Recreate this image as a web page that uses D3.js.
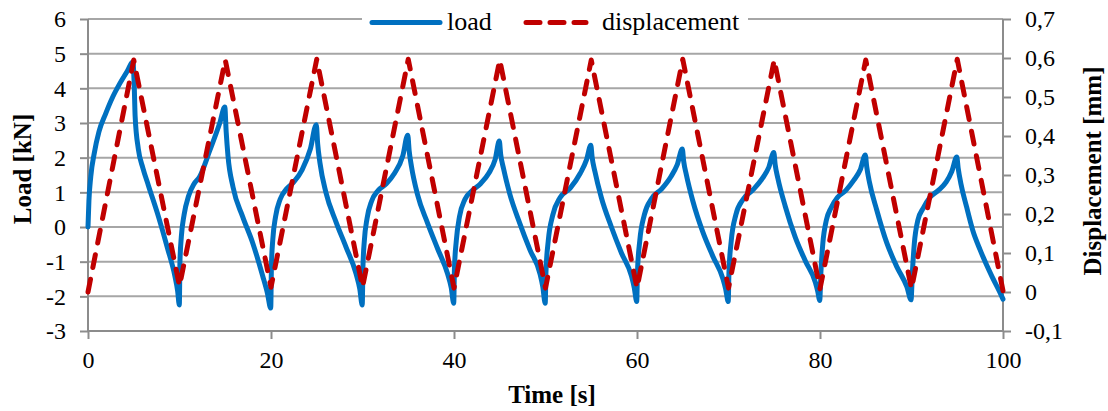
<!DOCTYPE html>
<html><head><meta charset="utf-8">
<script src="https://cdn.jsdelivr.net/npm/d3@7"></script>
<style>
body{margin:0;background:#fff}
svg{display:block}
text{font-family:"Liberation Serif","Times New Roman",serif;fill:#000}
</style>
</head><body>
<svg id="c" width="1108" height="411"></svg>
<script>
const timeTicks = [0, 20, 40, 60, 80, 100];
const loadTicks = [-3, -2, -1, 0, 1, 2, 3, 4, 5, 6];
const dispTicks = [-0.1, 0, 0.1, 0.2, 0.3, 0.4, 0.5, 0.6, 0.7];
const seriesNames = ["load", "displacement"];

// [time s, load kN]
const loadSeries = [
 [0,0],[0.1,0.75],[0.3,1.45],[0.7,2.15],[1.2,2.75],[1.9,3.25],[2.7,3.75],[3.5,4.15],[4.3,4.5],[4.9,4.77],[5.05,4.1],[5.15,3.2],[5.5,2.25],[6.0,1.7],[6.6,1.2],[7.7,0.3],[8.7,-0.62],[9.5,-1.42],[9.8,-1.85],[9.98,-2.25],
 [10.05,-1.0],[10.2,-0.28],[10.5,0.35],[11.0,0.9],[11.6,1.25],[12.2,1.45],[13.3,2.2],[14.4,3.0],[14.95,3.46],[15.1,2.75],[15.3,2.05],[15.85,1.15],[16.9,0.3],[18.0,-0.46],[19.1,-1.42],[19.6,-1.9],[19.97,-2.34],
 [20.05,-1.1],[20.2,-0.35],[20.5,0.3],[21.0,0.8],[21.7,1.1],[22.5,1.3],[23.4,1.65],[24.3,2.25],[24.95,2.95],[25.1,2.4],[25.35,1.85],[26.0,1.0],[27.1,0.15],[28.2,-0.58],[29.3,-1.35],[29.7,-1.78],[29.97,-2.25],
 [30.05,-1.15],[30.2,-0.4],[30.5,0.25],[31.0,0.75],[31.7,1.05],[32.6,1.25],[33.5,1.55],[34.4,2.05],[34.95,2.65],[35.1,2.2],[35.35,1.75],[36.0,0.95],[37.1,0.12],[38.2,-0.62],[39.3,-1.35],[39.7,-1.75],[39.97,-2.2],
 [40.05,-1.2],[40.25,-0.4],[40.6,0.3],[41.2,0.8],[42.0,1.05],[42.9,1.25],[43.8,1.55],[44.5,1.95],[44.95,2.48],[45.1,2.1],[45.4,1.7],[46.1,0.95],[47.2,0.1],[48.3,-0.66],[49.4,-1.35],[49.7,-1.72],[49.97,-2.2],
 [50.05,-1.3],[50.3,-0.4],[50.8,0.35],[51.6,0.85],[52.7,1.12],[53.8,1.55],[54.5,1.95],[54.95,2.36],[55.1,2.0],[55.4,1.6],[56.1,0.85],[57.2,0.0],[58.3,-0.75],[59.4,-1.42],[59.7,-1.75],[59.97,-2.15],
 [60.05,-1.3],[60.3,-0.4],[60.8,0.35],[61.6,0.82],[62.7,1.1],[63.7,1.45],[64.4,1.8],[64.95,2.25],[65.1,1.9],[65.4,1.5],[66.1,0.75],[67.2,-0.15],[68.3,-0.85],[69.4,-1.5],[69.7,-1.8],[69.97,-2.15],
 [70.05,-1.3],[70.3,-0.4],[70.8,0.35],[71.6,0.8],[72.7,1.08],[73.7,1.4],[74.4,1.72],[74.95,2.15],[75.1,1.8],[75.4,1.4],[76.2,0.6],[77.3,-0.3],[78.4,-0.98],[79.5,-1.6],[79.75,-1.85],[79.97,-2.12],
 [80.1,-1.3],[80.3,-0.5],[80.7,0.2],[81.2,0.55],[81.9,0.85],[82.8,1.05],[83.7,1.35],[84.4,1.65],[84.95,2.08],[85.1,1.75],[85.4,1.3],[86.2,0.49],[87.3,-0.46],[88.4,-1.15],[89.5,-1.73],[89.95,-2.1],
 [90.1,-1.3],[90.3,-0.5],[90.7,0.2],[91.3,0.55],[92.0,0.85],[92.9,1.05],[93.8,1.3],[94.4,1.6],[94.95,2.02],[95.1,1.7],[95.4,1.25],[96.0,0.6],[96.7,-0.1],[97.5,-0.66],[98.8,-1.43],[99.6,-1.85],[100,-2.08]
];

// [time s, displacement mm]
const dispSeries = [
 [0,0],[5,0.595],[10,0.015],[15,0.595],[20,0.012],[25,0.597],[30,0.012],[35,0.597],[40,0.01],[45,0.595],
 [50,0.01],[55,0.595],[60,0.01],[65,0.597],[70,0.01],[75,0.595],[80,0.008],[85,0.595],[90,0.008],[95,0.597],[100,0.003]
];

const colors = {load: "#0070C0", displacement: "#C00000"};
const svg = d3.select("#c");
const W = 1108, H = 411;
const m = {left: 88, right: 1003, top: 19, bottom: 331};

const x = d3.scaleLinear().domain([0, 100]).range([m.left, m.right]);
const yL = d3.scaleLinear().domain([-3, 6]).range([m.bottom, m.top]);
const yR = d3.scaleLinear().domain([-0.1, 0.7]).range([m.bottom, m.top]);

const gridColor = "#a6a6a6", axisColor = "#8c8c8c";

// gridlines
svg.append("g").selectAll("line").data(loadTicks.filter(d => d > -3)).join("line")
  .attr("x1", m.left).attr("x2", m.right)
  .attr("y1", d => yL(d)).attr("y2", d => yL(d))
  .attr("stroke", gridColor).attr("stroke-width", 2);

// left axis
const gL = svg.append("g").attr("transform", `translate(${m.left},0)`)
  .call(d3.axisLeft(yL).tickValues(loadTicks).tickSize(8).tickPadding(14).tickFormat(d => String(d)));
// right axis
const gR = svg.append("g").attr("transform", `translate(${m.right},0)`)
  .call(d3.axisRight(yR).tickValues(dispTicks).tickSize(8).tickPadding(14)
    .tickFormat(d => Math.abs(d) < 1e-9 ? "0" : d.toFixed(1).replace(".", ",")));
// bottom axis
const gB = svg.append("g").attr("transform", `translate(0,${m.bottom})`)
  .call(d3.axisBottom(x).tickValues(timeTicks).tickSize(8).tickPadding(12).tickFormat(d => String(d)));

[gL, gR, gB].forEach(g => {
  g.selectAll("path.domain").attr("stroke", axisColor).attr("stroke-width", 2);
  g.selectAll(".tick line").attr("stroke", axisColor).attr("stroke-width", 2);
  g.selectAll(".tick text").attr("font-size", 24).attr("font-family", '"Liberation Serif", serif').attr("fill", "#000");
});
gL.select("path.domain").attr("d", `M0,${m.bottom}V${m.top}`);
gR.select("path.domain").attr("d", `M0,${m.bottom}V${m.top}`);
gB.select("path.domain").attr("d", `M${m.left},0H${m.right}`);

// series
const lineL = d3.line().x(d => x(d[0])).y(d => yL(d[1])).curve(d3.curveMonotoneX);
const lineR = d3.line().x(d => x(d[0])).y(d => yR(d[1]));

svg.append("path").datum(loadSeries).attr("d", lineL)
  .attr("fill", "none").attr("stroke", colors.load).attr("stroke-width", 5)
  .attr("stroke-linejoin", "round").attr("stroke-linecap", "round");

svg.append("path").datum(dispSeries).attr("d", lineR)
  .attr("fill", "none").attr("stroke", colors.displacement).attr("stroke-width", 5)
  .attr("stroke-dasharray", "13,12").attr("stroke-linecap", "round").attr("stroke-linejoin", "round");

// axis titles
svg.append("text").attr("transform", `translate(31,169) rotate(-90)`).attr("text-anchor", "middle")
  .attr("font-size", 25).attr("font-weight", "bold").text("Load [kN]");
svg.append("text").attr("transform", `translate(1101,171) rotate(-90)`).attr("text-anchor", "middle")
  .attr("font-size", 25).attr("font-weight", "bold").text("Displacement [mm]");
svg.append("text").attr("x", 552).attr("y", 403).attr("text-anchor", "middle")
  .attr("font-size", 25).attr("font-weight", "bold").text("Time [s]");

// legend
const leg = svg.append("g");
leg.append("rect").attr("x", 362).attr("y", 4).attr("width", 386).attr("height", 34).attr("fill", "#fff");
leg.append("line").attr("x1", 372).attr("x2", 440).attr("y1", 22.5).attr("y2", 22.5)
  .attr("stroke", colors.load).attr("stroke-width", 5).attr("stroke-linecap", "round");
leg.append("text").attr("x", 447).attr("y", 30).attr("font-size", 26).text(seriesNames[0]);
leg.append("line").attr("x1", 526).attr("x2", 586).attr("y1", 22.5).attr("y2", 22.5)
  .attr("stroke", colors.displacement).attr("stroke-width", 5).attr("stroke-linecap", "round")
  .attr("stroke-dasharray", "14,10");
leg.append("text").attr("x", 602).attr("y", 30).attr("font-size", 26).text(seriesNames[1]);
</script>
</body></html>
